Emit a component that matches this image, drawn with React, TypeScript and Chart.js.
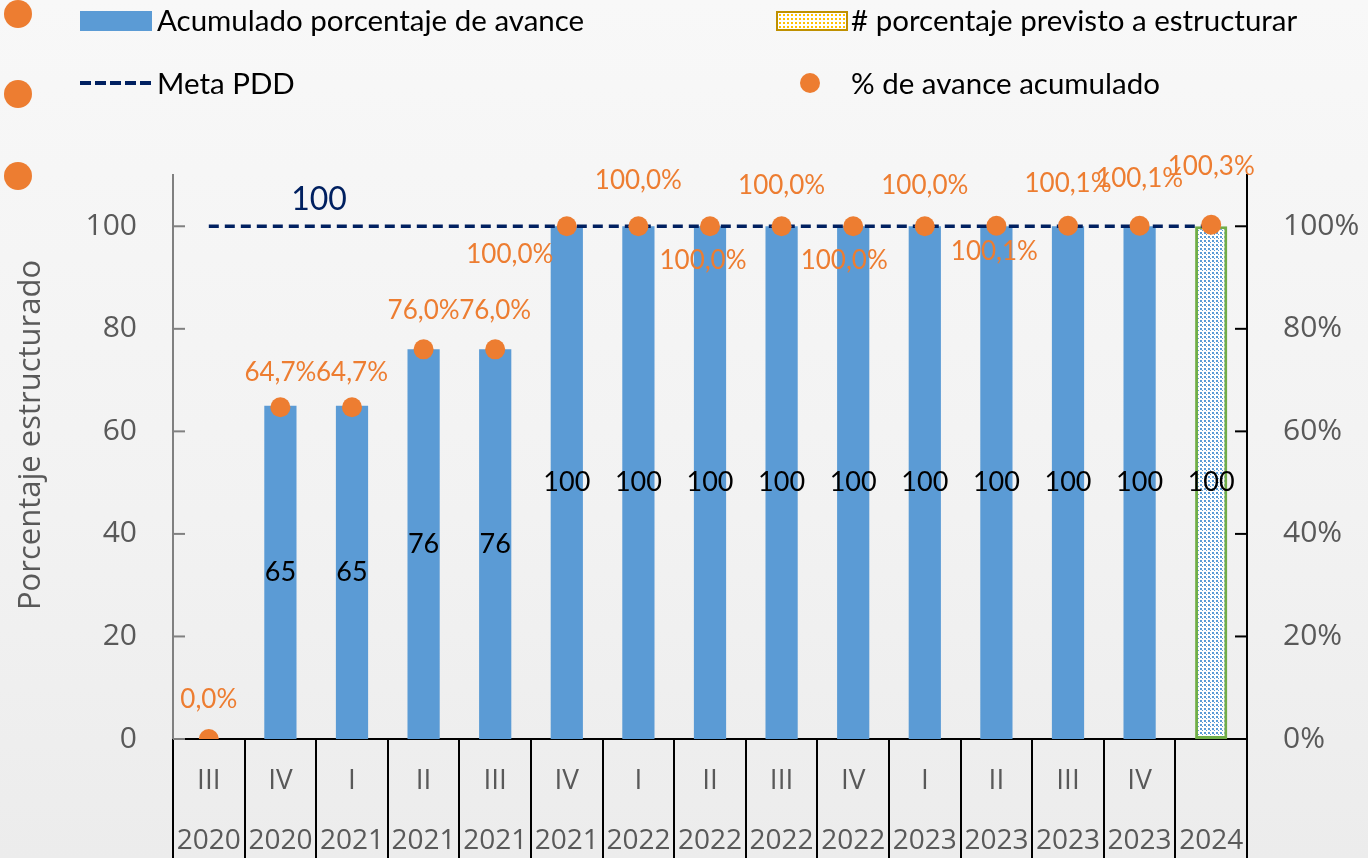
import React, { useEffect, useRef } from 'react';
import { Chart, registerables } from 'chart.js';
Chart.register(...registerables);

const quarters = ['III', 'IV', 'I', 'II', 'III', 'IV', 'I', 'II', 'III', 'IV', 'I', 'II', 'III', 'IV', ''];
const years = ['2020', '2020', '2021', '2021', '2021', '2021', '2022', '2022', '2022', '2022', '2023', '2023', '2023', '2023', '2024'];
const acumulado = [0, 65, 65, 76, 76, 100, 100, 100, 100, 100, 100, 100, 100, 100, null];
const previsto = [null, null, null, null, null, null, null, null, null, null, null, null, null, null, 100];
const metaPDD = [100, 100, 100, 100, 100, 100, 100, 100, 100, 100, 100, 100, 100, 100, 100];
const avance = [0, 0.647, 0.647, 0.76, 0.76, 1.0, 1.0, 1.0, 1.0, 1.0, 1.0, 1.001, 1.001, 1.001, 1.003];
const leftTicks = [0, 20, 40, 60, 80, 100];
const rightTicks = [0, 0.2, 0.4, 0.6, 0.8, 1.0];
const yTitle = 'Porcentaje estructurado';

// style: label offsets (dx, dy) relative to each orange point
const avanceLabelOffsets: [number, number][] = [
  [0, -39], [0, -35], [0, -35], [0, -39], [0, -39], [-57, 28], [0, -46], [-7, 34],
  [0, -41], [-9, 34], [0, -41], [-2, 26], [0, -42], [0, -47], [0, -58],
];
const metaLabelIndex = 2;
const metaLabelOffset: [number, number] = [-33, -27];

const ORANGE = '#ED7D31';
const BLUE = '#5B9BD5';
const NAVY = '#002060';
const GRAY = '#595959';

function makePattern(dot: string, bg: string) {
  const c = document.createElement('canvas');
  c.width = 4;
  c.height = 4;
  const g = c.getContext('2d')!;
  g.fillStyle = bg;
  g.fillRect(0, 0, 4, 4);
  g.fillStyle = dot;
  g.fillRect(0, 0, 2, 2);
  g.fillRect(2, 2, 1, 1);
  return g.createPattern(c, 'repeat')!;
}

const fmtPct = (v: number) => (v * 100).toFixed(1).replace('.', ',') + '%';

const decoPlugin = {
  id: 'deco',
  afterDraw(chart: any) {
    const { ctx, chartArea, scales } = chart;
    const x = scales.x;
    const n = quarters.length;
    const w = (x.right - x.left) / n;
    ctx.save();
    ctx.strokeStyle = '#000';
    ctx.lineWidth = 2;
    for (let i = 0; i <= n; i++) {
      const px = Math.round(x.left + i * w);
      ctx.beginPath();
      ctx.moveTo(px, chartArea.bottom);
      ctx.lineTo(px, chart.height);
      ctx.stroke();
    }
    // inward ticks
    ctx.strokeStyle = '#808080';
    scales.y.ticks.forEach((t: any) => {
      const py = scales.y.getPixelForValue(t.value);
      ctx.beginPath();
      ctx.moveTo(chartArea.left, py);
      ctx.lineTo(chartArea.left + 12, py);
      ctx.stroke();
    });
    ctx.strokeStyle = '#000';
    scales.y1.ticks.forEach((t: any) => {
      const py = scales.y1.getPixelForValue(t.value);
      ctx.beginPath();
      ctx.moveTo(chartArea.right - 12, py);
      ctx.lineTo(chartArea.right, py);
      ctx.stroke();
    });
    // y axis title
    ctx.translate(31, 435);
    ctx.rotate(-Math.PI / 2);
    ctx.font = '31px "Open Sans"';
    ctx.fillStyle = GRAY;
    ctx.textAlign = 'center';
    ctx.textBaseline = 'middle';
    ctx.fillText(yTitle, 0, 0);
    ctx.restore();
  },
  afterDatasetsDraw(chart: any) {
    const { ctx } = chart;
    ctx.save();
    ctx.textAlign = 'center';
    ctx.textBaseline = 'middle';
    // bar labels
    ctx.font = '27px Lato';
    ctx.fillStyle = '#000';
    [0, 1].forEach((di) => {
      const meta = chart.getDatasetMeta(di);
      const data = chart.data.datasets[di].data;
      meta.data.forEach((el: any, i: number) => {
        const v = data[i];
        if (v === null || v === undefined || v === 0) return;
        ctx.fillText(String(v), el.x, (el.y + el.base) / 2);
      });
    });
    // meta label
    const mm = chart.getDatasetMeta(2).data[metaLabelIndex];
    ctx.font = '32px Lato';
    ctx.fillStyle = NAVY;
    ctx.fillText(String(metaPDD[metaLabelIndex]), mm.x + metaLabelOffset[0], mm.y + metaLabelOffset[1]);
    // avance labels
    ctx.font = '26px Lato';
    ctx.fillStyle = ORANGE;
    const pm = chart.getDatasetMeta(3);
    pm.data.forEach((el: any, i: number) => {
      const [dx, dy] = avanceLabelOffsets[i];
      ctx.fillText(fmtPct(avance[i]), el.x + dx, el.y + dy);
    });
    ctx.restore();
  },
};

export default function App() {
  const ref = useRef<HTMLCanvasElement>(null);
  useEffect(() => {
    document.body.style.margin = '0';
    const pattern = makePattern(BLUE, '#ffffff');
    const chart = new Chart(ref.current!, {
      type: 'bar',
      data: {
        labels: quarters.map((q, i) => [q, years[i]]),
        datasets: [
          {
            type: 'bar',
            label: 'Acumulado porcentaje de avance',
            data: acumulado,
            backgroundColor: BLUE,
            borderWidth: 0,
            grouped: false,
            barPercentage: 0.45,
            categoryPercentage: 1,
            yAxisID: 'y',
            order: 3,
          } as any,
          {
            type: 'bar',
            label: '# porcentaje previsto a estructurar',
            data: previsto,
            backgroundColor: pattern,
            borderColor: '#70AD47',
            borderWidth: 3,
            borderSkipped: false,
            grouped: false,
            barPercentage: 0.45,
            categoryPercentage: 1,
            yAxisID: 'y',
            order: 4,
          } as any,
          {
            type: 'line',
            label: 'Meta PDD',
            data: metaPDD,
            borderColor: NAVY,
            borderWidth: 3.5,
            borderDash: [10, 6],
            pointRadius: 0,
            fill: false,
            yAxisID: 'y',
            order: 2,
          } as any,
          {
            type: 'line',
            label: '% de avance acumulado',
            data: avance,
            showLine: false,
            pointRadius: 10,
            pointBackgroundColor: ORANGE,
            pointBorderWidth: 0,
            borderColor: ORANGE,
            yAxisID: 'y1',
            order: 1,
          } as any,
        ],
      },
      options: {
        animation: false,
        responsive: true,
        maintainAspectRatio: false,
        layout: { padding: { top: 175, left: 0, right: 0, bottom: 0 } },
        plugins: { legend: { display: false }, tooltip: { enabled: false } },
        scales: {
          x: {
            afterFit: (s: any) => { s.height = 119; },
            grid: { display: false, drawTicks: false },
            border: { display: true, color: '#000', width: 2 },
            ticks: {
              color: GRAY,
              padding: 12,
              maxRotation: 0,
              autoSkip: false,
              font: { family: 'Open Sans', size: 28, lineHeight: 2.15 },
            },
          },
          y: {
            position: 'left',
            min: 0,
            max: 110,
            afterFit: (s: any) => { s.width = 173; },
            afterBuildTicks: (s: any) => { s.ticks = leftTicks.map((v) => ({ value: v })); },
            grid: { display: false, drawTicks: false },
            border: { display: true, color: '#808080', width: 2 },
            ticks: {
              color: GRAY,
              padding: 36,
              font: { family: 'Open Sans', size: 30 },
            },
          },
          y1: {
            position: 'right',
            min: 0,
            max: 1.1,
            afterFit: (s: any) => { s.width = 121; },
            afterBuildTicks: (s: any) => { s.ticks = rightTicks.map((v) => ({ value: v })); },
            grid: { display: false, drawTicks: false },
            border: { display: true, color: '#000', width: 2 },
            ticks: {
              color: GRAY,
              padding: 36,
              font: { family: 'Open Sans', size: 30 },
              callback: (v: any) => Math.round(Number(v) * 100) + '%',
            },
          },
        },
      },
      plugins: [decoPlugin],
    });
    return () => chart.destroy();
  }, []);

  const legendText: React.CSSProperties = {
    position: 'absolute',
    font: '29.5px Lato',
    color: '#000',
    whiteSpace: 'nowrap',
    lineHeight: '1',
  };
  const deco = (top: number): React.CSSProperties => ({
    position: 'absolute', left: 4, top: top - 14, width: 28, height: 28, borderRadius: '50%', background: ORANGE,
  });

  return (
    <div style={{ position: 'relative', width: 1368, height: 858, background: 'linear-gradient(#f8f8f8, #f2f2f2 60%, #ececec)', overflow: 'hidden' }}>
      <canvas ref={ref} style={{ position: 'absolute', left: 0, top: 0 }} />
      <div style={deco(14)} />
      <div style={deco(94)} />
      <div style={deco(176)} />
      <div style={{ position: 'absolute', left: 80, top: 11, width: 72, height: 20, background: BLUE }} />
      <div style={{ ...legendText, left: 157, top: 5 }}>Acumulado porcentaje de avance</div>
      <div style={{ position: 'absolute', left: 80, top: 81, width: 72, height: 4, background: `repeating-linear-gradient(90deg, ${NAVY} 0 11px, transparent 11px 15px)` }} />
      <div style={{ ...legendText, left: 157, top: 68 }}>Meta PDD</div>
      <div style={{ position: 'absolute', left: 776, top: 11, width: 68, height: 16, border: '2px solid #BF9000', background: 'radial-gradient(#FFC000 45%, transparent 50%) 0 0 / 4px 4px, #ffffff' }} />
      <div style={{ ...legendText, left: 851, top: 5 }}># porcentaje previsto a estructurar</div>
      <div style={{ position: 'absolute', left: 800, top: 73, width: 20, height: 20, borderRadius: '50%', background: ORANGE }} />
      <div style={{ ...legendText, left: 851, top: 68 }}>% de avance acumulado</div>
    </div>
  );
}
